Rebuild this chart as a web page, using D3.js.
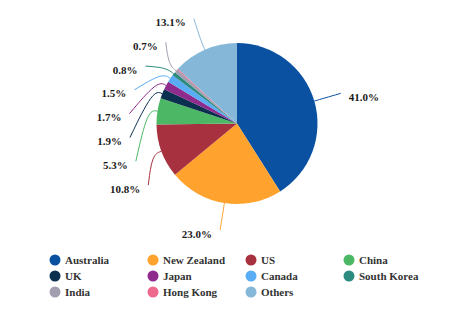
<!DOCTYPE html>
<html>
<head>
<meta charset="utf-8">
<script src="https://cdn.jsdelivr.net/npm/d3@7"></script>
<style>
  html, body { margin: 0; padding: 0; background: #ffffff; }
  svg { display: block; }
</style>
</head>
<body>
<svg id="chart" width="474" height="316"></svg>
<script>
// ---- data ----
const categories = ["Australia", "New Zealand", "US", "China", "UK", "Japan", "Canada", "South Korea", "India", "Hong Kong", "Others"];
const values = [41.0, 23.0, 10.8, 5.3, 1.9, 1.7, 1.5, 0.8, 0.7, 0.2, 13.1];
const colors = ["#0a52a1", "#ffa22e", "#a8313f", "#4cb865", "#0b2f4f", "#8e2b8d", "#5aacf5", "#2e8b80", "#a39fb0", "#ee6a8e", "#85b8d8"];
const legendColumns = 4;

// ---- layout ----
const W = 474, H = 316;
const cx = 237, cy = 123.5, r = 80.5;
const R = 108;            // label anchor radius
const spacing = 23.8;     // min vertical distance between labels
const minY = 18.5;        // top bound for label anchors
const textGap = 8, textDy = 3.5;

const svg = d3.select("#chart");
const data = categories.map((c, i) => ({ name: c, value: values[i], color: colors[i] }));

const pie = d3.pie().sort(null).value(d => d.value).startAngle(0).endAngle(2 * Math.PI);
const arcs = pie(data);
const arcGen = d3.arc().innerRadius(0).outerRadius(r);

const g = svg.append("g").attr("transform", `translate(${cx},${cy})`);
g.selectAll("path.slice").data(arcs).enter().append("path")
  .attr("class", "slice")
  .attr("d", arcGen)
  .attr("fill", d => d.data.color);

// ---- label layout ----
const pt = (a, rad) => [cx + rad * Math.sin(a), cy - rad * Math.cos(a)];
const labels = arcs.filter(d => d.data.value >= 0.5).map(d => {
  const mid = (d.startAngle + d.endAngle) / 2;
  const ideal = pt(mid, R);
  return { d, mid, side: Math.sin(mid) < 0 ? -1 : 1, idealX: ideal[0], idealY: ideal[1], y: ideal[1] };
});

function layoutSide(list) {
  list.sort((a, b) => a.idealY - b.idealY);
  const clusters = [];
  list.forEach(it => {
    clusters.push({ items: [it], top: Math.max(minY, it.idealY) });
    while (clusters.length > 1) {
      const cur = clusters[clusters.length - 1];
      const prev = clusters[clusters.length - 2];
      if (prev.top + prev.items.length * spacing > cur.top) {
        const items = prev.items.concat(cur.items);
        const mean = d3.mean(items, x => x.idealY);
        const top = Math.max(minY, mean - (items.length - 1) * spacing / 2);
        clusters.splice(clusters.length - 2, 2, { items, top });
      } else break;
    }
  });
  clusters.forEach(c => c.items.forEach((it, i) => { it.y = c.top + i * spacing; }));
  list.forEach(it => {
    const shift = it.y - it.idealY;
    if (Math.abs(shift) < 8) {
      it.x = it.idealX;
    } else {
      const dy = it.y - cy;
      it.x = cx + it.side * Math.sqrt(Math.max(0, R * R - dy * dy));
    }
  });
}
layoutSide(labels.filter(l => l.side < 0));
layoutSide(labels.filter(l => l.side > 0));

const lineGen = d3.line().curve(d3.curveBasis);
labels.forEach(l => {
  const p0 = pt(l.mid, r);
  const p1 = pt(l.mid, r + 10);
  svg.append("path")
    .attr("d", lineGen([p0, p1, [l.x, l.y]]))
    .attr("fill", "none")
    .attr("stroke", l.d.data.color)
    .attr("stroke-width", 1);
  svg.append("text")
    .attr("x", l.x + l.side * textGap)
    .attr("y", l.y + textDy)
    .attr("text-anchor", l.side < 0 ? "end" : "start")
    .attr("dominant-baseline", "central")
    .attr("font-family", "'Liberation Serif', 'Times New Roman', serif")
    .attr("font-weight", "bold")
    .attr("font-size", 11)
    .attr("fill", "#1a1a1a")
    .text(l.d.data.value.toFixed(1) + "%");
});

// ---- legend ----
const legX0 = 55, legDX = 98, legY0 = 260, legDY = 16;
const leg = svg.append("g");
data.forEach((d, i) => {
  const col = i % legendColumns, row = Math.floor(i / legendColumns);
  const x = legX0 + col * legDX, y = legY0 + row * legDY;
  leg.append("circle").attr("cx", x).attr("cy", y).attr("r", 5.5).attr("fill", d.color);
  leg.append("text")
    .attr("x", x + 10).attr("y", y)
    .attr("dominant-baseline", "central")
    .attr("font-family", "'Liberation Serif', 'Times New Roman', serif")
    .attr("font-weight", "bold")
    .attr("font-size", 11)
    .attr("fill", "#333")
    .text(d.name);
});
</script>
</body>
</html>
